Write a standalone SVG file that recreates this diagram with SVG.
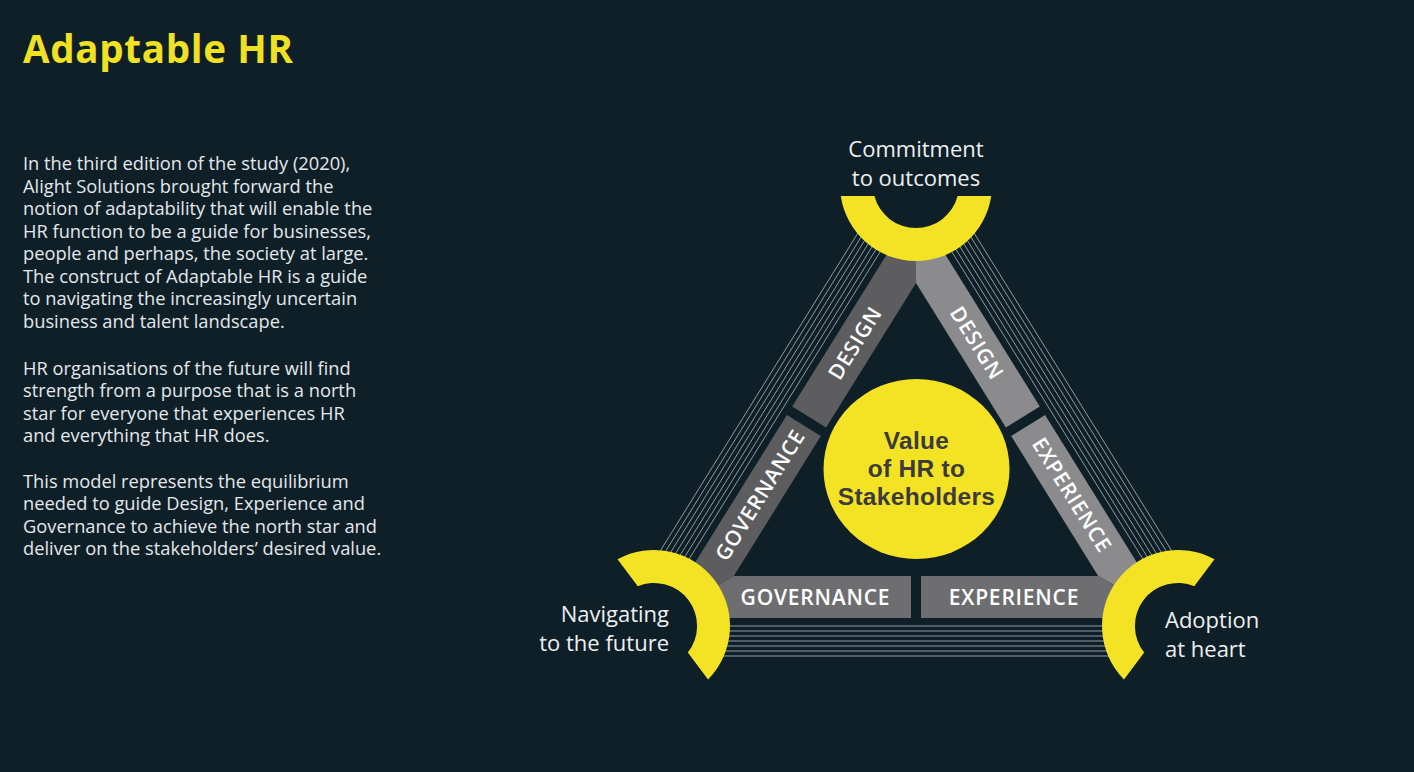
<svg xmlns="http://www.w3.org/2000/svg" width="1414" height="772" viewBox="0 0 1414 772">
<defs>
<style>
.body{font-family:"Open Sans","Noto Sans","Liberation Sans",sans-serif;font-size:18.3px;fill:#e4e8ea}
.title{font-family:"Open Sans","Noto Sans","Liberation Sans",sans-serif;font-weight:700;font-size:38.5px;letter-spacing:0.7px;fill:#f0e122}
.corner{font-family:"Open Sans","Noto Sans","Liberation Sans",sans-serif;font-size:22px;fill:#eef0f1}
.bar{font-family:"Open Sans","Noto Sans","Liberation Sans",sans-serif;font-weight:600;font-size:21px;fill:#ffffff;text-anchor:middle;letter-spacing:0.8px}
.hub{font-family:"Liberation Sans",Arial,sans-serif;font-weight:700;font-size:24.5px;letter-spacing:0.3px;fill:#3b3a3c;text-anchor:middle}
.ln{stroke:#8d9ba2;stroke-width:1;fill:none}
.yel{fill:#f3e324}
.bg{fill:#0f1f28}
.bl{fill:#5d5d60}
.bb{fill:#6e6e71}
.br{fill:#8b8b8e}
</style>
<path id="arc" d="M75.2,11 A76,76 0 0 1 -75.2,11 L-41.6,11 A43,43 0 0 0 41.6,11 Z"/>
</defs>
<rect class="bg" x="0" y="0" width="1414" height="772"/>

<g id="title"><text class="title" x="23" y="63">Adaptable HR</text></g>

<g id="intro">
<text class="body" x="23" y="170">In the third edition of the study (2020),</text>
<text class="body" x="23" y="192.5">Alight Solutions brought forward the</text>
<text class="body" x="23" y="215">notion of adaptability that will enable the</text>
<text class="body" x="23" y="237.5">HR function to be a guide for businesses,</text>
<text class="body" x="23" y="260">people and perhaps, the society at large.</text>
<text class="body" x="23" y="282.5">The construct of Adaptable HR is a guide</text>
<text class="body" x="23" y="305">to navigating the increasingly uncertain</text>
<text class="body" x="23" y="327.5">business and talent landscape.</text>
<text class="body" x="23" y="374.5">HR organisations of the future will find</text>
<text class="body" x="23" y="397">strength from a purpose that is a north</text>
<text class="body" x="23" y="419.5">star for everyone that experiences HR</text>
<text class="body" x="23" y="442">and everything that HR does.</text>
<text class="body" x="23" y="487.5">This model represents the equilibrium</text>
<text class="body" x="23" y="510">needed to guide Design, Experience and</text>
<text class="body" x="23" y="532.5">Governance to achieve the north star and</text>
<text class="body" x="23" y="555">deliver on the stakeholders’ desired value.</text>
</g>

<g id="bar-design-left"><polygon class="bl" points="916,207.4 916,283 826.1,427.6 792.2,406.5"/></g>
<g id="bar-governance-left"><polygon class="bl" points="786.9,415 820.8,436.1 733.8,576 660.6,618"/></g>
<g id="bar-design-right"><polygon class="br" points="916,207.4 916,283 1005.9,427.6 1039.8,406.5"/></g>
<g id="bar-experience-right"><polygon class="br" points="1045.1,415 1011.2,436.1 1098.2,576 1171.4,618"/></g>
<g id="bar-governance-bottom"><polygon class="bb" points="733.8,576 911,576 911,618 660.6,618"/></g>
<g id="bar-experience-bottom"><polygon class="bb" points="921,576 1098.2,576 1171.4,618 921,618"/></g>

<g id="connectors">
<line class="ln" x1="888.50" y1="238.39" x2="680.92" y2="572.17"/>
<line class="ln" x1="884.32" y1="236.02" x2="676.50" y2="570.19"/>
<line class="ln" x1="880.35" y1="233.33" x2="671.87" y2="568.55"/>
<line class="ln" x1="876.58" y1="230.29" x2="667.02" y2="567.26"/>
<line class="ln" x1="873.03" y1="226.93" x2="661.93" y2="566.37"/>
<line class="ln" x1="869.69" y1="223.20" x2="656.55" y2="565.91"/>
<line class="ln" x1="866.60" y1="219.10" x2="650.88" y2="565.95"/>
<line class="ln" x1="943.50" y1="238.39" x2="1151.08" y2="572.17"/>
<line class="ln" x1="947.68" y1="236.02" x2="1155.50" y2="570.19"/>
<line class="ln" x1="951.65" y1="233.33" x2="1160.13" y2="568.55"/>
<line class="ln" x1="955.42" y1="230.29" x2="1164.98" y2="567.26"/>
<line class="ln" x1="958.97" y1="226.93" x2="1170.07" y2="566.37"/>
<line class="ln" x1="962.31" y1="223.20" x2="1175.45" y2="565.91"/>
<line class="ln" x1="965.40" y1="219.10" x2="1181.12" y2="565.95"/>
<line class="ln" x1="714" y1="626" x2="1118" y2="626"/>
<line class="ln" x1="713.8" y1="631" x2="1118.2" y2="631"/>
<line class="ln" x1="713.2" y1="636" x2="1118.8" y2="636"/>
<line class="ln" x1="712.1" y1="641" x2="1119.9" y2="641"/>
<line class="ln" x1="710.6" y1="646" x2="1121.4" y2="646"/>
<line class="ln" x1="708.5" y1="651" x2="1123.5" y2="651"/>
<line class="ln" x1="706.0" y1="656" x2="1126.0" y2="656"/>
</g>

<g id="bar-labels">
<text class="bar" transform="translate(855,343) rotate(-58.1)" x="0" y="7.5">DESIGN</text>
<text class="bar" transform="translate(760,495) rotate(-58.1)" x="0" y="7.5">GOVERNANCE</text>
<text class="bar" transform="translate(977,343) rotate(58.1)" x="0" y="7.5">DESIGN</text>
<text class="bar" transform="translate(1072,495) rotate(58.1)" x="0" y="7.5">EXPERIENCE</text>
<text class="bar" x="815.5" y="604.5">GOVERNANCE</text>
<text class="bar" x="1014" y="604.5">EXPERIENCE</text>
</g>

<g id="holes">
<circle class="bg" cx="916" cy="185" r="44"/>
<circle class="bg" cx="654" cy="626" r="44"/>
<circle class="bg" cx="1178" cy="626" r="44"/>
</g>

<g id="node-commitment">
<use href="#arc" class="yel" transform="translate(916,185)"/>
<text class="corner" x="916" y="157" text-anchor="middle">Commitment</text>
<text class="corner" x="916" y="186" text-anchor="middle">to outcomes</text>
</g>
<g id="node-navigating">
<use href="#arc" class="yel" transform="translate(654,626) rotate(-127)"/>
<text class="corner" x="669" y="622" text-anchor="end">Navigating</text>
<text class="corner" x="669" y="651" text-anchor="end">to the future</text>
</g>
<g id="node-adoption">
<use href="#arc" class="yel" transform="translate(1178,626) rotate(127)"/>
<text class="corner" x="1165" y="628">Adoption</text>
<text class="corner" x="1165" y="657">at heart</text>
</g>

<g id="node-value">
<ellipse class="yel" cx="916.5" cy="469" rx="93" ry="90"/>
<text class="hub" x="916.5" y="448.5">Value</text>
<text class="hub" x="916.5" y="476.5">of HR to</text>
<text class="hub" x="916.5" y="504.5">Stakeholders</text>
</g>
</svg>
